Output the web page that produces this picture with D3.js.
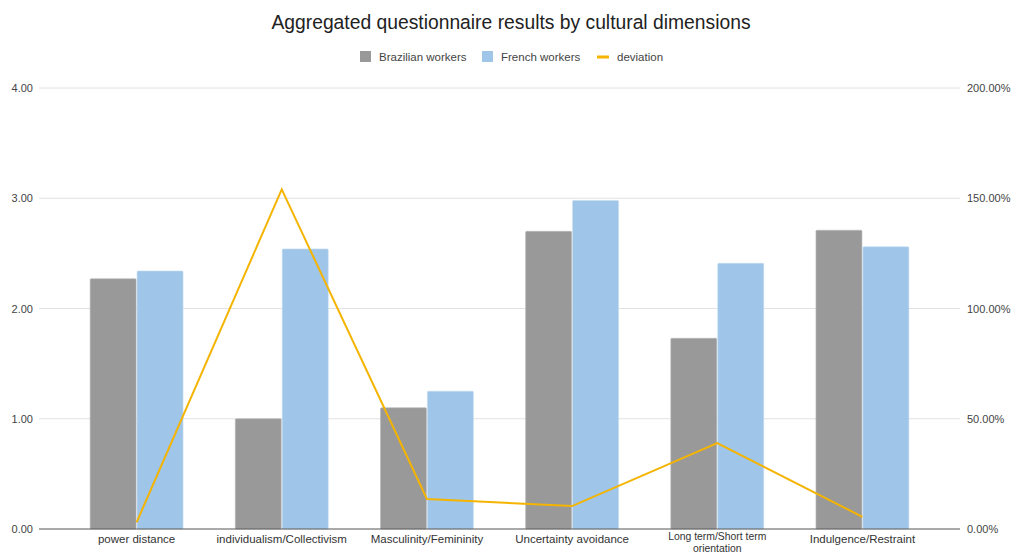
<!DOCTYPE html>
<html lang="en">
<head>
<meta charset="UTF-8">
<title>Aggregated questionnaire results by cultural dimensions</title>
<script src="https://d3js.org/d3.v7.min.js"></script>
<style>
    body { margin: 0; background: #fff; font-family: "Liberation Sans", Arial, sans-serif; }
</style>
</head>
<body>
<svg id="chart" width="1014" height="554"></svg>
<script>
    const categories = ["power distance", "individualism/Collectivism", "Masculinity/Femininity",
        "Uncertainty avoidance", "Long term/Short term orientation", "Indulgence/Restraint"];
    const brazilian = [2.27, 1.00, 1.10, 2.70, 1.73, 2.71];
    const french = [2.34, 2.54, 1.25, 2.98, 2.41, 2.56];
    const deviation = [0.03, 1.54, 0.136, 0.104, 0.39, 0.055];
    const leftTicks = [0, 1, 2, 3, 4];
    const rightTicks = [0, 0.5, 1, 1.5, 2];
    const seriesNames = ["Brazilian workers", "French workers", "deviation"];
    const colors = ["#999999", "#9fc5e8", "#f4b400"];

    const svg = d3.select("#chart");
    const plot = { left: 39, right: 960, top: 88, bottom: 529 };

    const x = d3.scaleBand().domain(categories).range([64, 935]).paddingInner(0.36).paddingOuter(0.18);
    const inner = d3.scaleBand().domain([0, 1]).range([0, x.bandwidth()]).paddingInner(0.02);
    const yL = d3.scaleLinear().domain([0, 4]).range([plot.bottom, plot.top]);
    const yR = d3.scaleLinear().domain([0, 2]).range([plot.bottom, plot.top]);

    // title
    svg.append("text")
        .attr("x", 511).attr("y", 29)
        .attr("text-anchor", "middle")
        .attr("font-size", 19.3).attr("fill", "#222")
        .text("Aggregated questionnaire results by cultural dimensions");

    // legend
    const legendX = [360, 482, 597];
    seriesNames.forEach((name, i) => {
        const g = svg.append("g").attr("transform", `translate(${legendX[i]},57)`);
        if (i < 2) {
            g.append("rect").attr("x", 0).attr("y", -6).attr("width", 11).attr("height", 11).attr("fill", colors[i]);
        } else {
            g.append("rect").attr("x", 0).attr("y", -1.5).attr("width", 12).attr("height", 3).attr("fill", colors[i]);
        }
        g.append("text").attr("x", i < 2 ? 19 : 20).attr("y", 4)
            .attr("font-size", 11.5).attr("fill", "#444").text(name);
    });

    // gridlines
    svg.append("g").selectAll("line").data(leftTicks.slice(1)).join("line")
        .attr("x1", plot.left).attr("x2", plot.right)
        .attr("y1", d => yL(d)).attr("y2", d => yL(d))
        .attr("stroke", "#e2e2e2").attr("stroke-width", 1);

    // left axis
    const leftAxis = svg.append("g").attr("transform", `translate(${plot.left},0)`)
        .call(d3.axisLeft(yL).tickValues(leftTicks).tickFormat(d3.format(".2f")).tickSize(0).tickPadding(6));
    leftAxis.select(".domain").remove();
    leftAxis.selectAll("text").attr("font-size", 11).attr("fill", "#444").attr("font-family", "Liberation Sans, Arial, sans-serif");

    // right axis
    const rightAxis = svg.append("g").attr("transform", `translate(${plot.right},0)`)
        .call(d3.axisRight(yR).tickValues(rightTicks).tickFormat(d3.format(".2%")).tickSize(0).tickPadding(7));
    rightAxis.select(".domain").remove();
    rightAxis.selectAll("text").attr("font-size", 11).attr("fill", "#444").attr("font-family", "Liberation Sans, Arial, sans-serif");

    // bars
    const groups = svg.append("g").selectAll("g").data(categories).join("g")
        .attr("transform", d => `translate(${x(d)},0)`);
    [brazilian, french].forEach((vals, s) => {
        groups.append("rect")
            .attr("x", inner(s))
            .attr("y", (d, i) => yL(vals[i]))
            .attr("width", inner.bandwidth())
            .attr("height", (d, i) => plot.bottom - yL(vals[i]))
            .attr("rx", 1)
            .attr("fill", colors[s])
            .attr("stroke", s === 0 ? "#b8b8b8" : "#c4dbf0")
            .attr("stroke-width", 0.6);
    });

    // baseline
    svg.append("line")
        .attr("x1", plot.left).attr("x2", plot.right)
        .attr("y1", plot.bottom).attr("y2", plot.bottom)
        .attr("stroke", "#555").attr("stroke-width", 1);

    // deviation line
    const line = d3.line()
        .x((d, i) => x(categories[i]) + x.bandwidth() / 2)
        .y(d => yR(d));
    svg.append("path")
        .datum(deviation)
        .attr("d", line)
        .attr("fill", "none")
        .attr("stroke", colors[2])
        .attr("stroke-width", 2)
        .attr("stroke-linejoin", "miter");

    // category labels
    const xAxis = svg.append("g").attr("transform", `translate(0,${plot.bottom})`)
        .call(d3.axisBottom(x).tickSize(0).tickPadding(0));
    xAxis.select(".domain").remove();
    xAxis.selectAll("text").remove();
    xAxis.selectAll(".tick").each(function(d) {
        const twoLine = d === "Long term/Short term orientation";
        const t = d3.select(this).append("text")
            .attr("text-anchor", "middle")
            .attr("font-size", twoLine ? 10.4 : 11.5).attr("fill", "#333")
            .attr("font-family", "Liberation Sans, Arial, sans-serif");
        const lines = twoLine ? ["Long term/Short term", "orientation"] : [d];
        lines.forEach((l, k) => {
            t.append("tspan").attr("x", 0).attr("y", (twoLine ? 10.5 : 14) + k * 12.2).text(l);
        });
    });
</script>
</body>
</html>
